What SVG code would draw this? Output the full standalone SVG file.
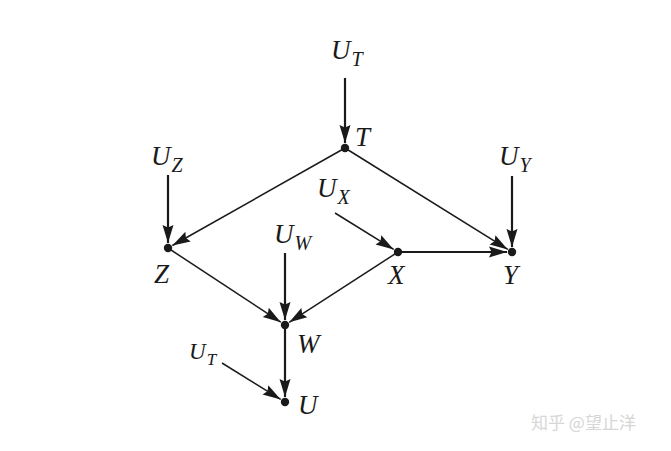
<svg xmlns="http://www.w3.org/2000/svg" width="671" height="451" viewBox="0 0 671 451">
<style>
.e{stroke:#1a1a1a;stroke-width:1.5;fill:none;marker-end:url(#ah)}
.v{stroke-width:2.2}
.lbl{font-family:"Liberation Serif","Times New Roman",serif;font-style:italic;font-size:27px;fill:#1a1a1a}
.sub{font-size:20px}
.dot{fill:#1a1a1a}
.wm{font-family:"Noto Sans CJK SC","Noto Sans",sans-serif;font-size:17px;fill:#d6d6d6}
</style>
<defs>
<marker id="ah" markerUnits="userSpaceOnUse" markerWidth="22" markerHeight="14" viewBox="0 -7 20 14" refX="18" refY="0" orient="auto">
<path d="M0,-5.5 L18,0 L0,5.5 L2.5,0 z" fill="#1a1a1a"/>
</marker>
</defs>
<rect width="671" height="451" fill="#fff"/>
<g id="connectors">
<line class="e v" x1="345" y1="78" x2="345" y2="143"/>
<line class="e v" x1="168" y1="175" x2="168" y2="243"/>
<line class="e v" x1="512" y1="176" x2="512" y2="247"/>
<line class="e v" x1="285" y1="253" x2="285" y2="320"/>
<line class="e v" x1="285" y1="325" x2="285" y2="397"/>
<line class="e" x1="345" y1="148" x2="172.4" y2="245.5"/>
<line class="e" x1="345" y1="148" x2="507.8" y2="249.4"/>
<line class="e" x1="168" y1="248" x2="280.8" y2="322.2"/>
<line class="e" x1="398" y1="252" x2="289.2" y2="322.3"/>
<line class="e v" x1="398" y1="252" x2="507" y2="252"/>
<line class="e" x1="335" y1="213" x2="393.7" y2="249.4"/>
<line class="e" x1="222" y1="363" x2="280.7" y2="399.4"/>
</g>
<g id="UT_top"><text class="lbl" x="331" y="59">U<tspan class="sub" dx="1" dy="7">T</tspan></text></g>
<g id="T"><circle class="dot" cx="345" cy="148" r="4.2"/><text class="lbl" x="355" y="146">T</text></g>
<g id="UZ"><text class="lbl" x="151" y="165">U<tspan class="sub" dx="1" dy="7">Z</tspan></text></g>
<g id="Z"><circle class="dot" cx="168" cy="248" r="4.2"/><text class="lbl" x="154" y="283">Z</text></g>
<g id="UY"><text class="lbl" x="499" y="165">U<tspan class="sub" dx="1" dy="7">Y</tspan></text></g>
<g id="Y"><circle class="dot" cx="512" cy="252" r="4.2"/><text class="lbl" x="503" y="284">Y</text></g>
<g id="UX"><text class="lbl" x="317" y="197">U<tspan class="sub" dx="1" dy="7">X</tspan></text></g>
<g id="X"><circle class="dot" cx="398" cy="252" r="4.2"/><text class="lbl" x="388" y="284">X</text></g>
<g id="UW"><text class="lbl" x="274" y="243">U<tspan class="sub" dx="1" dy="7">W</tspan></text></g>
<g id="W"><circle class="dot" cx="285" cy="325" r="4.2"/><text class="lbl" x="297" y="353">W</text></g>
<g id="UT_small"><text class="lbl" x="189" y="359" style="font-size:23px">U<tspan dx="1" dy="6" style="font-size:17px">T</tspan></text></g>
<g id="U"><circle class="dot" cx="285" cy="402" r="4.2"/><text class="lbl" x="298" y="414">U</text></g>
<text class="wm" x="531" y="429">知乎 @望止洋</text>
</svg>
